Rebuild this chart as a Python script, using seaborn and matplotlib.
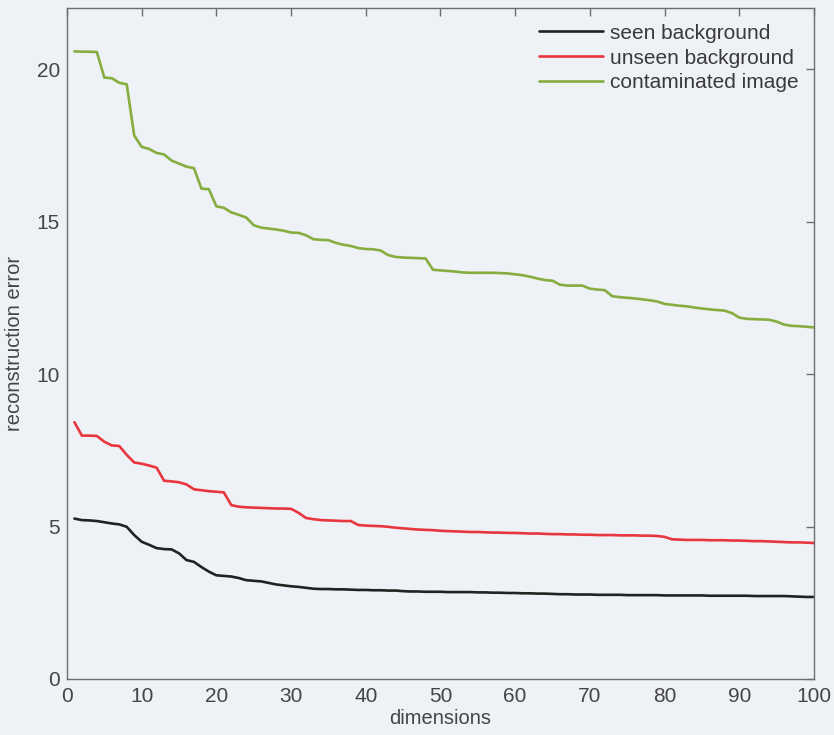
import numpy as np
import pandas as pd
import matplotlib
matplotlib.use("Agg")
import matplotlib.pyplot as plt
import seaborn as sns

# Reconstruction error versus number of retained dimensions (1..100)
dimensions = list(range(1, 101))

seen_background = [
    5.26, 5.21, 5.20, 5.18, 5.14, 5.10, 5.07, 4.99, 4.72, 4.50,
    4.40, 4.29, 4.26, 4.25, 4.12, 3.90, 3.84, 3.67, 3.52, 3.40,
    3.38, 3.36, 3.31, 3.24, 3.22, 3.20, 3.15, 3.10, 3.07, 3.04,
    3.02, 2.99, 2.96, 2.95, 2.95, 2.94, 2.94, 2.93, 2.92, 2.92,
    2.91, 2.91, 2.90, 2.90, 2.88, 2.87, 2.87, 2.86, 2.86, 2.86,
    2.85, 2.85, 2.85, 2.85, 2.84, 2.84, 2.83, 2.83, 2.82, 2.82,
    2.81, 2.81, 2.80, 2.80, 2.79, 2.78, 2.78, 2.77, 2.77, 2.77,
    2.76, 2.76, 2.76, 2.76, 2.75, 2.75, 2.75, 2.75, 2.75, 2.74,
    2.74, 2.74, 2.74, 2.74, 2.74, 2.73, 2.73, 2.73, 2.73, 2.73,
    2.73, 2.72, 2.72, 2.72, 2.72, 2.72, 2.71, 2.70, 2.69, 2.69,
]

unseen_background = [
    8.42, 7.98, 7.98, 7.97, 7.78, 7.66, 7.64, 7.35, 7.10, 7.06,
    7.00, 6.93, 6.50, 6.48, 6.45, 6.38, 6.22, 6.19, 6.16, 6.14,
    6.12, 5.70, 5.65, 5.63, 5.62, 5.61, 5.60, 5.59, 5.59, 5.58,
    5.45, 5.28, 5.24, 5.21, 5.20, 5.19, 5.18, 5.18, 5.05, 5.03,
    5.02, 5.01, 4.99, 4.96, 4.94, 4.92, 4.90, 4.89, 4.88, 4.86,
    4.85, 4.84, 4.83, 4.82, 4.82, 4.81, 4.80, 4.80, 4.79, 4.79,
    4.78, 4.77, 4.77, 4.76, 4.75, 4.75, 4.74, 4.74, 4.73, 4.73,
    4.72, 4.72, 4.72, 4.71, 4.71, 4.71, 4.70, 4.70, 4.69, 4.66,
    4.58, 4.57, 4.56, 4.56, 4.56, 4.55, 4.55, 4.55, 4.54, 4.54,
    4.53, 4.52, 4.52, 4.51, 4.50, 4.49, 4.48, 4.48, 4.47, 4.46,
]

contaminated_image = [
    20.58, 20.57, 20.57, 20.56, 19.72, 19.70, 19.55, 19.50, 17.82, 17.45,
    17.38, 17.25, 17.20, 17.00, 16.90, 16.80, 16.75, 16.08, 16.06, 15.50,
    15.45, 15.30, 15.22, 15.13, 14.88, 14.80, 14.77, 14.74, 14.70, 14.64,
    14.63, 14.55, 14.42, 14.40, 14.39, 14.30, 14.24, 14.20, 14.13, 14.10,
    14.09, 14.05, 13.90, 13.84, 13.82, 13.81, 13.80, 13.79, 13.42, 13.40,
    13.38, 13.36, 13.33, 13.32, 13.32, 13.32, 13.32, 13.31, 13.30, 13.27,
    13.24, 13.19, 13.13, 13.08, 13.06, 12.93, 12.90, 12.90, 12.90, 12.80,
    12.77, 12.75, 12.55, 12.52, 12.50, 12.48, 12.45, 12.42, 12.38, 12.30,
    12.27, 12.24, 12.22, 12.18, 12.15, 12.12, 12.10, 12.08, 12.00, 11.85,
    11.81, 11.80, 11.79, 11.78, 11.72, 11.62, 11.58, 11.57, 11.55, 11.53,
]

series_names = ["seen background", "unseen background", "contaminated image"]
series_colors = ["#222222", "#e8363f", "#86ad3f"]
x_ticks = list(range(0, 101, 10))
y_ticks = [0, 5, 10, 15, 20]

df = pd.DataFrame({
    "dimensions": dimensions * 3,
    "reconstruction error": seen_background + unseen_background + contaminated_image,
    "series": [series_names[0]] * 100 + [series_names[1]] * 100 + [series_names[2]] * 100,
})

bg = "#eef1f5"
edge = "#6e6e6e"
text_col = "#454545"

sns.set_theme(style="white")
plt.rcParams["font.family"] = ["Liberation Sans", "DejaVu Sans"]

fig = plt.figure(figsize=(8.34, 7.35), dpi=100, facecolor=bg)
ax = fig.add_axes([0.0803, 0.0762, 0.8957, 0.9128])
ax.set_facecolor(bg)

sns.lineplot(
    data=df, x="dimensions", y="reconstruction error", hue="series",
    hue_order=series_names, palette=dict(zip(series_names, series_colors)),
    linewidth=1.9, ax=ax,
)

ax.set_xlim(0, 100)
ax.set_ylim(0, 22)
ax.set_xticks(x_ticks)
ax.set_yticks(y_ticks)
ax.tick_params(direction="in", length=6, width=1, color=edge,
               top=True, right=True, labelsize=15, labelcolor=text_col, pad=6)
ax.tick_params(axis="y", pad=5)
for s in ax.spines.values():
    s.set_color(edge)
    s.set_linewidth(1.0)
    s.set_visible(True)

ax.set_xlabel("dimensions", fontsize=14.5, color=text_col, labelpad=2)
ax.set_ylabel("reconstruction error", fontsize=14.5, color=text_col, labelpad=9)

leg = ax.legend(
    loc="upper right", frameon=False, fontsize=15, handlelength=3.1,
    handletextpad=0.3, labelspacing=0.28, borderaxespad=0.35,
)
for t in leg.get_texts():
    t.set_color("#3a3a3a")
for h in leg.get_lines():
    h.set_linewidth(1.9)

fig.savefig("out.png", dpi=100, facecolor=bg)
